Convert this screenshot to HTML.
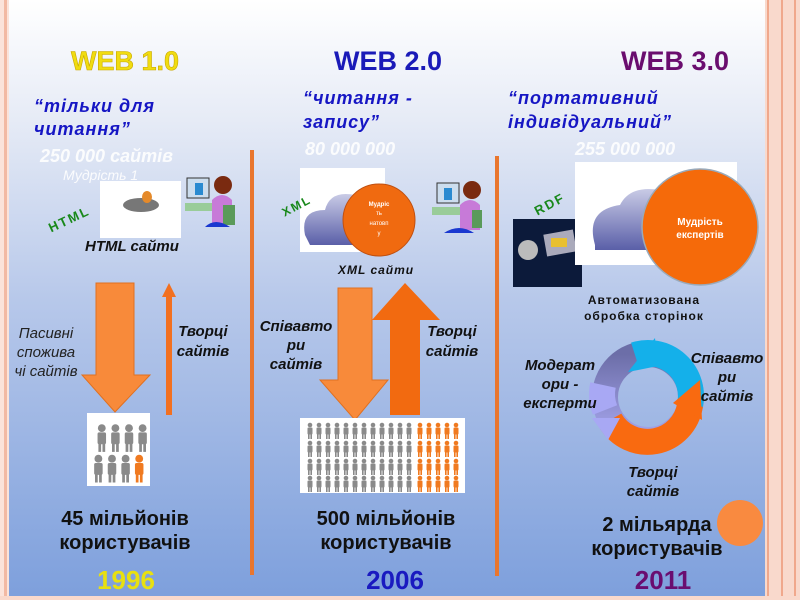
<!DOCTYPE html>
<html><head><meta charset="utf-8"><style>
body{margin:0;width:800px;height:600px;overflow:hidden}
svg{display:block}
text{font-family:"Liberation Sans","DejaVu Sans",sans-serif}
</style></head><body>
<svg width="800" height="600" viewBox="0 0 800 600" xmlns="http://www.w3.org/2000/svg">
<defs>
<linearGradient id="bg" x1="0" y1="0" x2="0" y2="1">
<stop offset="0" stop-color="#ffffff"/><stop offset="0.2" stop-color="#e6ebf6"/><stop offset="0.5" stop-color="#b7c8ea"/><stop offset="1" stop-color="#7d9fdc"/></linearGradient>
<linearGradient id="cl" x1="0" y1="0" x2="0" y2="1"><stop offset="0" stop-color="#c9cbe6"/><stop offset="1" stop-color="#5a5fa8"/></linearGradient>
<linearGradient id="pu" x1="0" y1="0" x2="0" y2="1"><stop offset="0" stop-color="#6c6ea8"/><stop offset="1" stop-color="#a9a8f0"/></linearGradient>
<g id="man"><circle cx="4" cy="3" r="2.3"/><rect x="1.5" y="5.5" width="5" height="7" rx="1"/><rect x="2" y="12" width="1.6" height="5"/><rect x="4.4" y="12" width="1.6" height="5"/></g>
</defs>
<rect width="800" height="600" fill="url(#bg)"/>
<rect x="0" y="0" width="9" height="600" fill="#fbe3da"/><rect x="4" y="0" width="3" height="600" fill="#f2b9a3"/>
<rect x="765" y="0" width="35" height="600" fill="#f9d9cc"/>
<rect x="767" y="0" width="2" height="600" fill="#f0a88c"/><rect x="781" y="0" width="2" height="600" fill="#f0a88c"/><rect x="794" y="0" width="2" height="600" fill="#f0a88c"/>
<rect x="0" y="596" width="800" height="4" fill="#f9d9cc"/>

<text x="125" y="70" text-anchor="middle" font-size="27" font-weight="bold" fill="#f0dc10" stroke="#c9a800" stroke-width="0.6">WEB 1.0</text>
<text x="388" y="70" text-anchor="middle" font-size="27" font-weight="bold" fill="#1a1ab8">WEB 2.0</text>
<text x="675" y="70" text-anchor="middle" font-size="27" font-weight="bold" fill="#6a0d6e">WEB 3.0</text>

<g font-size="18" font-weight="bold" font-style="italic" fill="#1616c4" letter-spacing="1">
<text x="34" y="112">“тільки для</text><text x="34" y="135">читання”</text>
<text x="303" y="104">“читання -</text><text x="303" y="128">запису”</text>
<text x="508" y="104">“портативний</text><text x="508" y="128">індивідуальний”</text>
</g>
<g font-size="18" font-weight="bold" font-style="italic" fill="#ffffff" opacity="0.9">
<text x="40" y="162">250 000 сайтів</text>
<text x="305" y="155">80 000 000</text>
<text x="575" y="155">255 000 000</text>
<text x="63" y="180" font-size="14" font-weight="normal">Мудрість 1</text>
</g>

<rect x="100" y="181" width="81" height="57" fill="#fff"/>
<ellipse cx="141" cy="205" rx="18" ry="7" fill="#777"/><ellipse cx="147" cy="197" rx="5" ry="6" fill="#e58a2a"/>
<g transform="translate(185,175)"><rect x="2" y="3" width="22" height="20" fill="#cde" stroke="#333"/><rect x="10" y="8" width="8" height="12" fill="#2a8ad0"/><rect x="0" y="28" width="30" height="8" fill="#9c9"/><circle cx="38" cy="10" r="9" fill="#7a2a10"/><path d="M27 25 q10-10 20 0 v25 h-20z" fill="#c77ad8"/><rect x="38" y="30" width="12" height="20" fill="#5a9a5a"/><path d="M20 52 q10-10 25 0z" fill="#1a38d0"/></g>
<text x="45" y="225" font-size="13" font-weight="bold" fill="#18881a" transform="rotate(-25 65 215)" letter-spacing="2">HTML</text>
<text x="85" y="251" font-size="15" font-weight="bold" font-style="italic" fill="#111">HTML сайти</text>

<rect x="250" y="150" width="4" height="425" fill="#e9762e"/>
<rect x="495" y="156" width="4" height="420" fill="#e9762e"/>

<polygon points="96,283 134,283 134,375 150,375 115,412 82,375 96,375" fill="#f88a3a" stroke="#e07020"/>
<polygon points="166,297 172,297 172,415 166,415" fill="#f27020"/><polygon points="162,297 169,283 176,297" fill="#f27020"/>
<g font-family="Liberation Sans Narrow,Liberation Sans,sans-serif" font-size="15" font-style="italic" fill="#222" text-anchor="middle">
<text x="46" y="338">Пасивні</text><text x="46" y="357">спожива</text><text x="46" y="376">чі сайтів</text></g>
<g font-size="15" font-weight="bold" font-style="italic" fill="#111" text-anchor="middle">
<text x="203" y="336">Творці</text><text x="203" y="356">сайтів</text>
<text x="452" y="336">Творці</text><text x="452" y="356">сайтів</text>
<text x="296" y="331">Співавто</text><text x="296" y="350">ри</text><text x="296" y="369">сайтів</text>
</g>
<rect x="87" y="413" width="63" height="73" fill="#fff"/>
<g fill="#8a8a8a" transform="translate(95,423) scale(1.7)"><use href="#man" x="0" y="0"/><use href="#man" x="8" y="0"/><use href="#man" x="16" y="0"/><use href="#man" x="24" y="0"/>
<use href="#man" x="-2" y="18"/><use href="#man" x="6" y="18"/><use href="#man" x="14" y="18"/><use href="#man" x="22" y="18" fill="#f07a20"/></g>
<g font-family="Liberation Sans Narrow,Liberation Sans,sans-serif" font-size="20" font-weight="bold" fill="#111" text-anchor="middle">
<text x="125" y="525">45 мільйонів</text><text x="125" y="549">користувачів</text>
<text x="386" y="525">500 мільйонів</text><text x="386" y="549">користувачів</text>
<text x="657" y="531">2 мільярда</text><text x="657" y="555">користувачів</text></g>
<g font-family="Liberation Sans Narrow,Liberation Sans,sans-serif" font-size="26" font-weight="bold" text-anchor="middle">
<text x="126" y="589" fill="#e8e010">1996</text><text x="395" y="589" fill="#1a1ac0">2006</text><text x="663" y="589" fill="#6a0d70">2011</text></g>

<rect x="300" y="168" width="85" height="84" fill="#fff"/>
<path d="M305 235 q-5-25 20-25 q5-20 30-15 q20-5 30 15 v35 h-75z" fill="url(#cl)"/>
<circle cx="379" cy="220" r="36" fill="#f06a10" stroke="#c05010"/>
<text x="379" y="206" text-anchor="middle" font-size="6" fill="#fff" font-family="Liberation Serif,serif" font-weight="bold">Мудріс</text>
<text x="379" y="215" text-anchor="middle" font-size="6" fill="#fff" font-family="Liberation Serif,serif">ть</text>
<text x="379" y="225" text-anchor="middle" font-size="6" fill="#fff" font-family="Liberation Serif,serif">натовп</text>
<text x="379" y="235" text-anchor="middle" font-size="6" fill="#fff" font-family="Liberation Serif,serif">у</text>
<g transform="translate(432,180)"><rect x="5" y="3" width="22" height="20" fill="#cde" stroke="#333"/><rect x="12" y="8" width="8" height="12" fill="#2a8ad0"/><rect x="0" y="27" width="30" height="8" fill="#9c9"/><circle cx="40" cy="10" r="9" fill="#7a2a10"/><path d="M28 25 q10-10 20 0 v25 h-20z" fill="#c77ad8"/><rect x="40" y="30" width="10" height="18" fill="#5a9a5a"/><path d="M12 53 q15-10 30 0z" fill="#1a38d0"/></g>
<text x="278" y="210" font-size="12" font-weight="bold" fill="#18881a" transform="rotate(-28 295 200)" letter-spacing="2">XML</text>
<text x="338" y="274" font-size="12" font-weight="bold" font-style="italic" fill="#111" letter-spacing="1">XML  сайти</text>
<polygon points="338,288 372,288 372,380 388,380 355,420 320,380 338,380" fill="#f88a3a" stroke="#e07020"/>
<polygon points="390,415 420,415 420,320 440,320 405,283 372,320 390,320" fill="#f26a10"/>
<rect x="300" y="418" width="165" height="75" fill="#fff"/>
<g fill="#8a8a8a">
<use href="#man" x="306" y="422"/><use href="#man" x="315" y="422"/><use href="#man" x="324" y="422"/><use href="#man" x="333" y="422"/><use href="#man" x="342" y="422"/><use href="#man" x="351" y="422"/><use href="#man" x="360" y="422"/><use href="#man" x="369" y="422"/><use href="#man" x="378" y="422"/><use href="#man" x="387" y="422"/><use href="#man" x="396" y="422"/><use href="#man" x="405" y="422"/>
<use href="#man" x="306" y="440"/><use href="#man" x="315" y="440"/><use href="#man" x="324" y="440"/><use href="#man" x="333" y="440"/><use href="#man" x="342" y="440"/><use href="#man" x="351" y="440"/><use href="#man" x="360" y="440"/><use href="#man" x="369" y="440"/><use href="#man" x="378" y="440"/><use href="#man" x="387" y="440"/><use href="#man" x="396" y="440"/><use href="#man" x="405" y="440"/>
<use href="#man" x="306" y="458"/><use href="#man" x="315" y="458"/><use href="#man" x="324" y="458"/><use href="#man" x="333" y="458"/><use href="#man" x="342" y="458"/><use href="#man" x="351" y="458"/><use href="#man" x="360" y="458"/><use href="#man" x="369" y="458"/><use href="#man" x="378" y="458"/><use href="#man" x="387" y="458"/><use href="#man" x="396" y="458"/><use href="#man" x="405" y="458"/>
<use href="#man" x="306" y="475"/><use href="#man" x="315" y="475"/><use href="#man" x="324" y="475"/><use href="#man" x="333" y="475"/><use href="#man" x="342" y="475"/><use href="#man" x="351" y="475"/><use href="#man" x="360" y="475"/><use href="#man" x="369" y="475"/><use href="#man" x="378" y="475"/><use href="#man" x="387" y="475"/><use href="#man" x="396" y="475"/><use href="#man" x="405" y="475"/>
</g>
<g fill="#f07a20">
<use href="#man" x="416" y="422"/><use href="#man" x="425" y="422"/><use href="#man" x="434" y="422"/><use href="#man" x="443" y="422"/><use href="#man" x="452" y="422"/>
<use href="#man" x="416" y="440"/><use href="#man" x="425" y="440"/><use href="#man" x="434" y="440"/><use href="#man" x="443" y="440"/><use href="#man" x="452" y="440"/>
<use href="#man" x="416" y="458"/><use href="#man" x="425" y="458"/><use href="#man" x="434" y="458"/><use href="#man" x="443" y="458"/><use href="#man" x="452" y="458"/>
<use href="#man" x="416" y="475"/><use href="#man" x="425" y="475"/><use href="#man" x="434" y="475"/><use href="#man" x="443" y="475"/><use href="#man" x="452" y="475"/>
</g>

<text x="530" y="210" font-size="13" font-weight="bold" fill="#18881a" transform="rotate(-28 545 198)" letter-spacing="2">RDF</text>
<rect x="513" y="219" width="69" height="68" fill="#0c1a3a"/>
<rect x="545" y="232" width="30" height="22" fill="#aab" transform="rotate(-10 560 243)"/><rect x="551" y="238" width="16" height="9" fill="#e8c030"/>
<circle cx="528" cy="250" r="10" fill="#bbb"/>
<rect x="575" y="162" width="162" height="103" fill="#fff"/>
<path d="M595 245 q-10-35 25-40 q10-20 40-15 q30-5 40 20 v40 h-105z" fill="url(#cl)"/>
<circle cx="700" cy="227" r="58" fill="#f56a0a" stroke="#9ab" stroke-width="1.5"/>
<text x="700" y="225" text-anchor="middle" font-size="10" font-weight="bold" fill="#fff" font-family="Liberation Serif,serif">Мудрість</text>
<text x="700" y="238" text-anchor="middle" font-size="10" font-weight="bold" fill="#fff" font-family="Liberation Serif,serif">експертів</text>
<g font-size="12" font-weight="bold" fill="#111" text-anchor="middle" letter-spacing="1"><text x="644" y="304">Автоматизована</text><text x="644" y="320">обробка сторінок</text></g>
<circle cx="648" cy="397" r="43" fill="none" stroke="url(#pu)" stroke-width="26"/>
<path d="M635 355 A43 43 0 0 1 690 405" fill="none" stroke="#14b0ea" stroke-width="26"/>
<polygon points="628,372 655,338 658,366" fill="#14b0ea"/>
<path d="M690 405 A43 43 0 0 1 610 420" fill="none" stroke="#f96a10" stroke-width="26"/>
<polygon points="673,403 700,380 702,420" fill="#f96a10"/>
<polygon points="592,418 620,418 608,440" fill="#a8a8f4"/>
<path d="M605 410 A43 43 0 0 1 603 385" fill="none" stroke="#a8a8f4" stroke-width="26"/>
<g font-size="15" font-weight="bold" font-style="italic" fill="#111" text-anchor="middle">
<text x="560" y="370">Модерат</text><text x="560" y="389">ори -</text><text x="560" y="408">експерти</text>
<text x="727" y="363">Співавто</text><text x="727" y="382">ри</text><text x="727" y="401">сайтів</text>
<text x="653" y="477">Творці</text><text x="653" y="496">сайтів</text></g>
<circle cx="740" cy="523" r="23" fill="#f98a40"/>
</svg>
</body></html>
